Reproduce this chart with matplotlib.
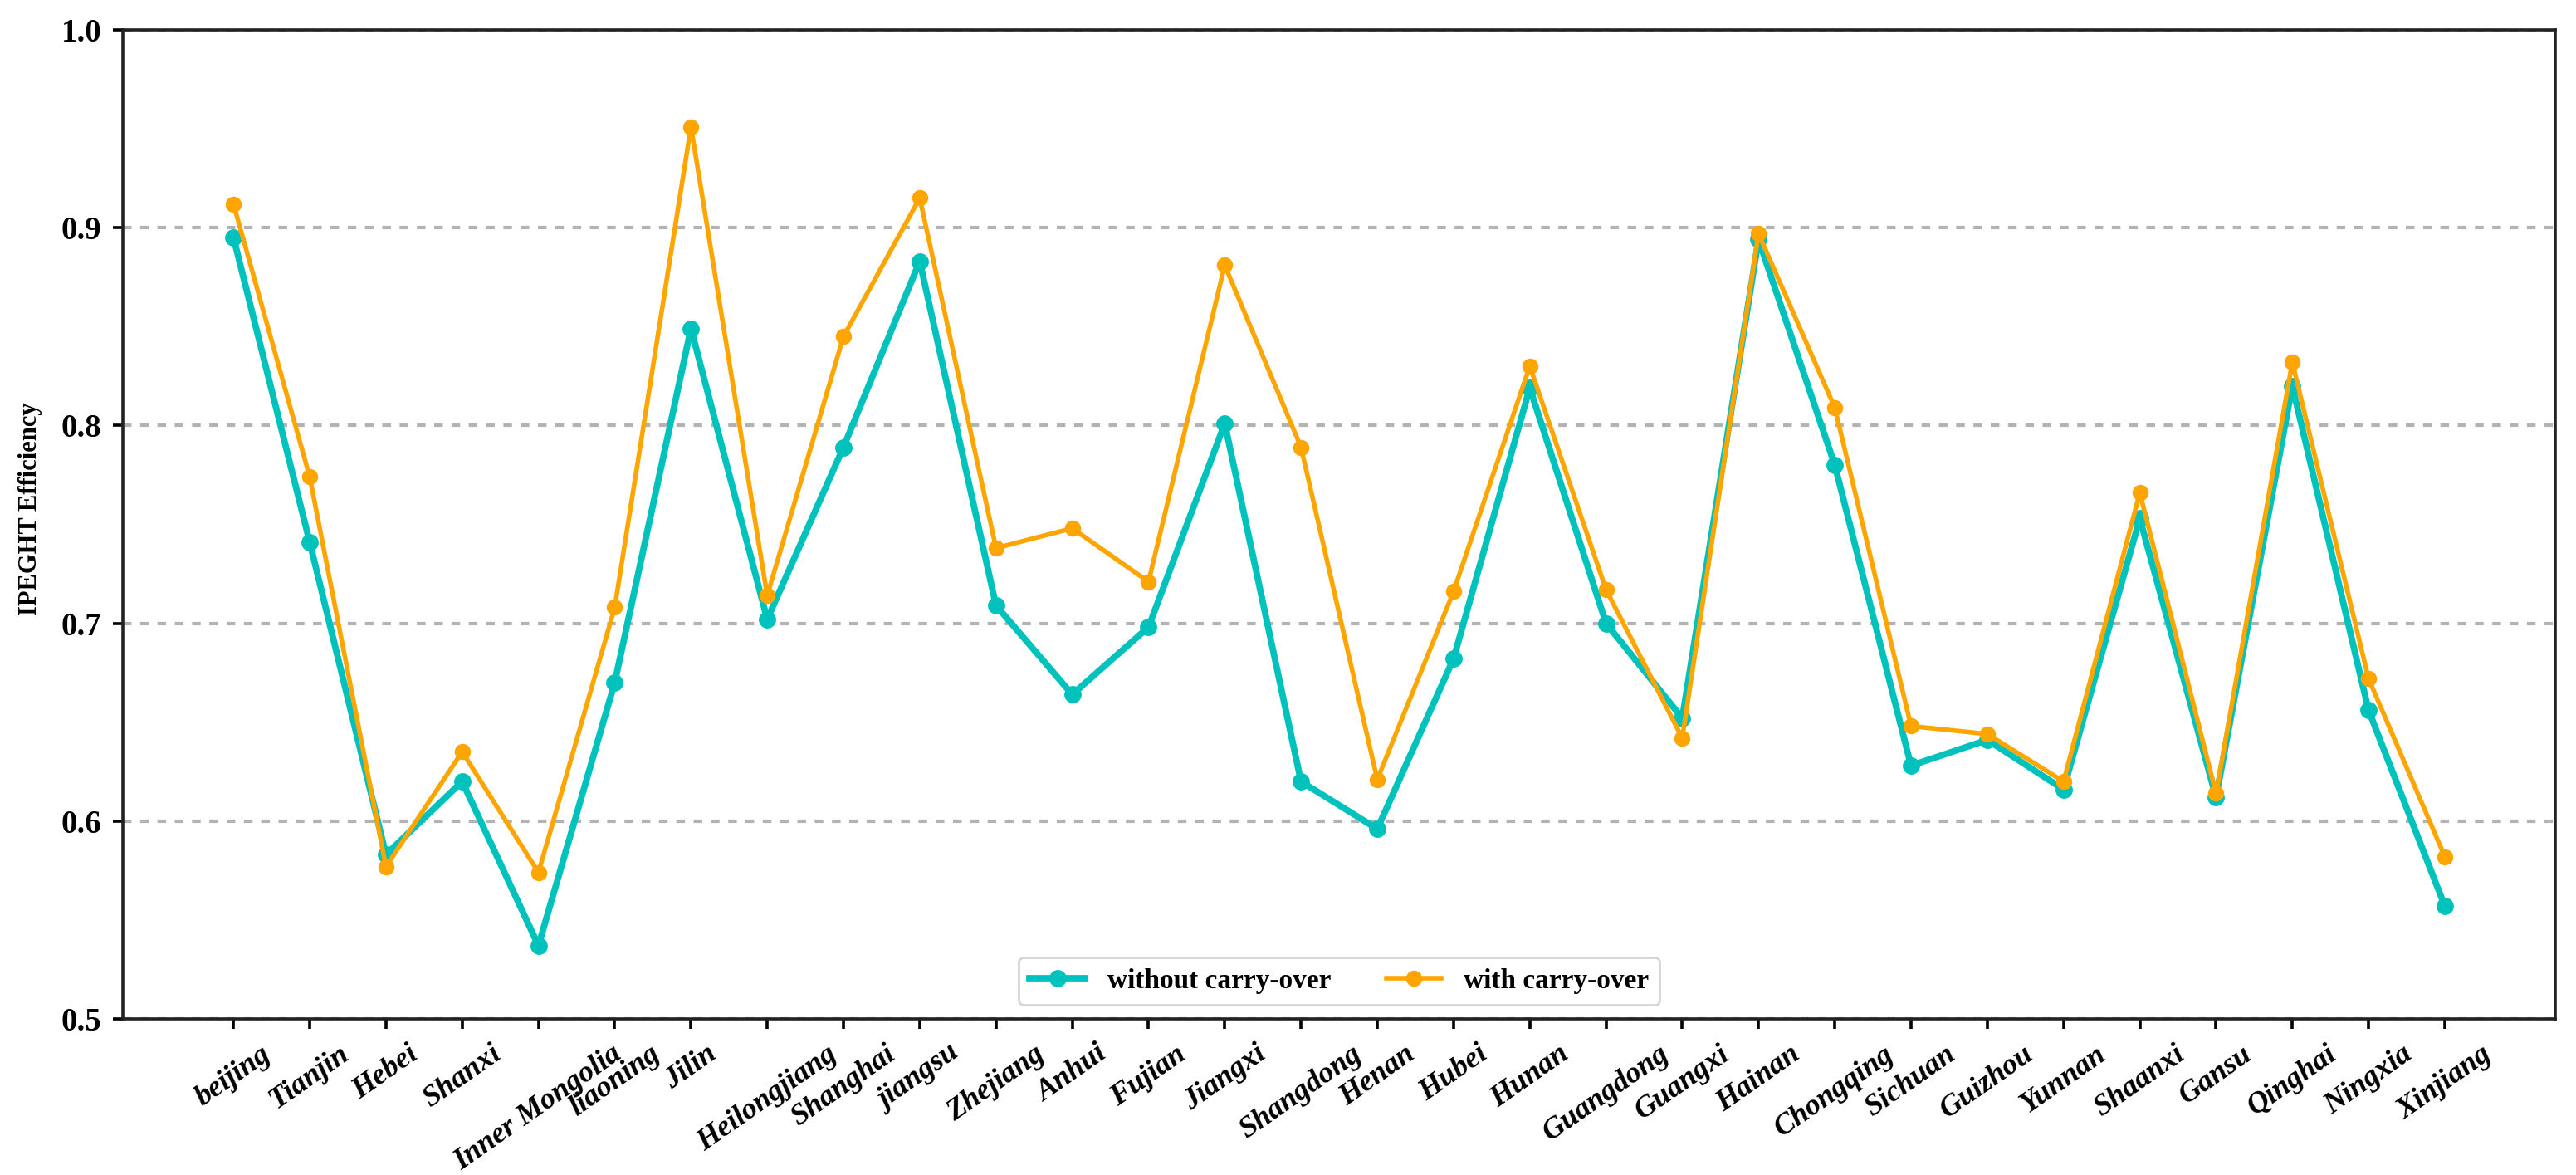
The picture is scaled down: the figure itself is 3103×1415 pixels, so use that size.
import numpy as np
import matplotlib
matplotlib.use("Agg")
import matplotlib.pyplot as plt

plt.rcParams["font.family"] = "Liberation Serif"
plt.rcParams["font.weight"] = "bold"

provinces = ["beijing", "Tianjin", "Hebei", "Shanxi", "Inner Mongolia",
             "liaoning", "Jilin", "Heilongjiang", "Shanghai", "jiangsu",
             "Zhejiang", "Anhui", "Fujian", "Jiangxi", "Shangdong", "Henan",
             "Hubei", "Hunan", "Guangdong", "Guangxi", "Hainan", "Chongqing",
             "Sichuan", "Guizhou", "Yunnan", "Shaanxi", "Gansu", "Qinghai",
             "Ningxia", "Xinjiang"]

without_carry = [0.895, 0.741, 0.583, 0.620, 0.537, 0.670, 0.849, 0.702,
                 0.789, 0.883, 0.709, 0.664, 0.698, 0.801, 0.620, 0.596,
                 0.682, 0.819, 0.700, 0.652, 0.894, 0.780, 0.628, 0.641,
                 0.616, 0.753, 0.612, 0.820, 0.656, 0.557]

with_carry = [0.912, 0.774, 0.577, 0.635, 0.574, 0.708, 0.951, 0.714,
              0.845, 0.915, 0.738, 0.748, 0.721, 0.881, 0.789, 0.621,
              0.716, 0.830, 0.717, 0.642, 0.897, 0.809, 0.648, 0.644,
              0.620, 0.766, 0.614, 0.832, 0.672, 0.582]

x = np.arange(len(provinces))

fig, ax = plt.subplots(figsize=(15.515, 7.075), dpi=200)
fig.subplots_adjust(left=0.0477, right=0.992, top=0.9746, bottom=0.1329)

ax.plot(x, without_carry, color="#00C2BD", lw=2.8, marker="o", ms=6.5,
        label="without carry-over", zorder=3)
ax.plot(x, with_carry, color="#FFA500", lw=2.0, marker="o", ms=6,
        label="with carry-over", zorder=4)

ax.set_xlim(-1.45, 30.45)
ax.set_ylim(0.5, 1.0)
ax.set_yticks([0.5, 0.6, 0.7, 0.8, 0.9, 1.0])
ax.yaxis.grid(True, linestyle=(0, (2.5, 2.5)), color="#b3b3b3", lw=1.5)
ax.set_axisbelow(True)

ax.set_xticks(x)
ax.set_xticklabels(provinces, rotation=35, ha="center", fontsize=13,
                   fontstyle="italic", fontweight="bold")
for lab in ax.get_yticklabels():
    lab.set_fontsize(14)
    lab.set_fontweight("bold")
ax.tick_params(axis="both", length=4.3, width=1.3, pad=5)

for s in ax.spines.values():
    s.set_linewidth(1.3)
    s.set_color("#222222")

ax.set_ylabel("IPEGHT Efficiency", fontsize=11, fontweight="bold")
ax.yaxis.set_label_coords(-0.033, 0.516)

ax.legend(loc="lower center", ncol=2, fontsize=12, columnspacing=2.0,
          borderaxespad=0.5)

plt.savefig("out.png", dpi=200)
